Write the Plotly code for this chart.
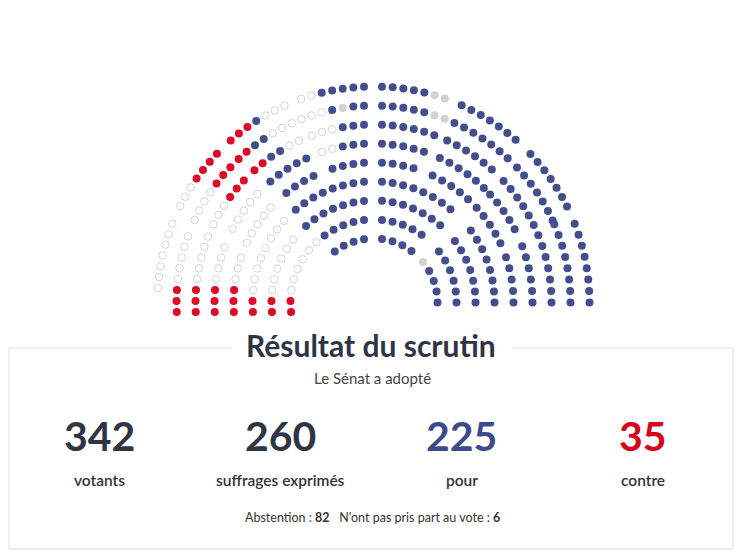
import math
import plotly.graph_objects as go

# ---------------- data ----------------
vote_labels = ["Pour", "Contre", "Abstention", "N'ont pas pris part au vote"]
vote_codes = ["B", "R", "H", "G"]
vote_totals = [225, 35, 82, 6]

summary_labels = ["votants", "suffrages exprimés", "pour", "contre"]

# Seat codes per sector, per row k (0 = innermost row, 8 = outermost row),
# each string listed from the central aisle outward.
# B = pour, R = contre, H = abstention, G = n'ont pas pris part au vote
right_sector_1 = {8: "BBBBBGG", 7: "BBBBBGG", 6: "BBBBBB", 5: "BBBBB", 4: "BBBB"}
right_sector_2 = {8: "BBBBBBB", 7: "BBBBBBB", 6: "BBBBBB", 5: "BBBBBB", 4: "BBBBB"}
right_sector_3 = {8: "BBBBBBB", 7: "BBBBBBB", 6: "BBBBBB", 5: "BBBBB", 4: "BBBBB"}
right_sector_4 = {8: "BBBBBBBB", 7: "BBBBBBBB", 6: "BBBBBBB", 5: "BBBBBB", 4: "BBBBB"}
right_inner_1 = {3: "BBBBBBBB", 2: "BBBBBBB", 1: "BBBBB", 0: "BBBB"}
right_inner_2 = {3: "BBBBBBBB", 2: "BBBBBBB", 1: "BBBBBB", 0: "GBBBB"}

left_sector_1 = {8: "BBBBBHH", 7: "BBGBHHH", 6: "BBBHHH", 5: "BBBHH", 4: "BBBB"}
left_sector_2 = {8: "HHHBRRR", 7: "HHHBBRR", 6: "HHBBRR", 5: "BBBBB", 4: "BBBB"}
left_sector_3 = {8: "RRRRHHH", 7: "RRRHHHH", 6: "RRRHHH", 5: "HHHHH", 4: "HHHHH"}
left_sector_4 = {8: "HHHHHHH", 7: "HHHHHRRR", 6: "HHHHHRRR", 5: "HHHHRRR", 4: "HHHRRR"}
left_inner_1 = {3: "BBBBBBBB", 2: "BBBBBBB", 1: "BBBBB", 0: "BBBB"}
left_inner_2 = {3: "HHHHHHHHRR", 2: "HHHHHHRR", 1: "HHHHHHRR"}

# ---------------- hemicycle layout ----------------
CX, CY = 373.5, 302.5      # centre of the hemicycle (pixel space)
R0, DR = 64.0, 19.0        # innermost radius, radial row step

# (side, rows, phi_start, phi_end, anchor, aisle offset / bottom drop, spacing, overrides)
sectors = [
    (+1, right_sector_1, 0.0, 22.5, "start", 8.5, 10.7, None),
    (+1, right_sector_2, 22.5, 45.0, "start", 6.0, 10.7, None),
    (+1, right_sector_3, 45.0, 67.5, "start", 6.0, 10.7, None),
    (+1, right_sector_4, 67.5, 90.0, "end", 0.0, 11.5, None),
    (+1, right_inner_1, 0.0, 45.0, "start", 8.5, 10.7, None),
    (+1, right_inner_2, 45.0, 90.0, "end", 0.0, 11.0, None),
    (-1, left_sector_1, 0.0, 22.5, "start", 9.5, 10.7, None),
    (-1, left_sector_2, 22.5, 45.0, "start", 7.0, 10.7, None),
    (-1, left_sector_3, 45.0, 67.5, "start", 5.5, 10.7, None),
    (-1, left_sector_4, 67.5, 90.0, "end", 9.5, 11.0, {8: -14.5}),
    (-1, left_inner_1, 0.0, 45.0, "start", 9.5, 10.7, None),
    (-1, left_inner_2, 45.0, 90.0, "end", 9.5, 11.0, None),
]

seats = {c: ([], []) for c in vote_codes}
for side, rows, p0, p1, anchor, off, sp, override in sectors:
    for k, codes in rows.items():
        r = R0 + DR * k
        n = len(codes)
        if anchor == "start":
            base = math.radians(p0) + math.asin(off / r)
            phis = [base + i * sp / r for i in range(n)]
        else:
            drop = override.get(k, off) if override else off
            end = math.radians(p1) + math.asin(drop / r)
            phis = [end - (n - 1 - i) * sp / r for i in range(n)]
        for c, ph in zip(codes, phis):
            seats[c][0].append(CX + side * r * math.sin(ph))
            seats[c][1].append(CY - r * math.cos(ph))

fig = go.Figure()

styles = {
    "H": dict(color="white", size=7.5, line=dict(color="#d4d4d4", width=1)),
    "G": dict(color="#d2d2d2", size=8, line=dict(width=0)),
    "B": dict(color="#444e8e", size=8, line=dict(width=0)),
    "R": dict(color="#dc0a26", size=8, line=dict(width=0)),
}
for code in ["H", "G", "B", "R"]:
    xs, ys = seats[code]
    name = vote_labels[vote_codes.index(code)]
    fig.add_trace(go.Scatter(x=xs, y=ys, mode="markers", name=name,
                             marker=dict(symbol="circle", **styles[code]),
                             hoverinfo="name", showlegend=False))

# ---------------- result box ----------------
pour, contre, abst, nppv = vote_totals
votants = pour + contre + abst
exprimes = pour + contre
summary_values = [votants, exprimes, pour, contre]
summary_colors = ["#2f3545", "#2f3545", "#3f4a8c", "#d6001c"]

line_col = "#dddddd"
box = dict(x0=9, x1=733, y0=348, y1=549)
shapes = [
    dict(type="line", x0=box["x0"], x1=box["x0"], y0=box["y0"], y1=box["y1"]),
    dict(type="line", x0=box["x1"], x1=box["x1"], y0=box["y0"], y1=box["y1"]),
    dict(type="line", x0=box["x0"], x1=box["x1"], y0=box["y1"], y1=box["y1"]),
    dict(type="line", x0=box["x0"], x1=232, y0=box["y0"], y1=box["y0"]),
    dict(type="line", x0=512, x1=box["x1"], y0=box["y0"], y1=box["y0"]),
]
for s in shapes:
    s.update(xref="x", yref="y", line=dict(color=line_col, width=1), layer="below")

FONT = "Lato, 'Open Sans', sans-serif"
ann = [
    dict(x=371, y=345, text="Résultat du scrutin",
         font=dict(family=FONT, size=30, color="#2f3545", weight=700)),
    dict(x=372, y=378, text="Le Sénat a adopté",
         font=dict(family=FONT, size=15, color="#444444")),
    dict(x=372, y=517,
         text=f"Abstention : <b>{abst}</b>&nbsp;&nbsp;&nbsp;N'ont pas pris part au vote : <b>{nppv}</b>",
         font=dict(family=FONT, size=12.5, color="#333333")),
]
col_w = (box["x1"] - box["x0"]) / 4
for i, (v, lab, c) in enumerate(zip(summary_values, summary_labels, summary_colors)):
    xc = box["x0"] + col_w * (i + 0.5)
    ann.append(dict(x=xc, y=435, text=str(v),
                    font=dict(family=FONT, size=41, color=c, weight=700)))
    ann.append(dict(x=xc, y=480, text=lab,
                    font=dict(family=FONT, size=15.5, color="#333333", weight=600)))
for a in ann:
    a.update(xref="x", yref="y", showarrow=False, xanchor="center", yanchor="middle")

fig.update_layout(
    width=747, height=553,
    margin=dict(l=0, r=0, t=0, b=0),
    paper_bgcolor="white", plot_bgcolor="white",
    xaxis=dict(range=[0, 747], visible=False, fixedrange=True),
    yaxis=dict(range=[553, 0], visible=False, fixedrange=True),
    shapes=shapes, annotations=ann,
)
fig.write_html("out.html")
